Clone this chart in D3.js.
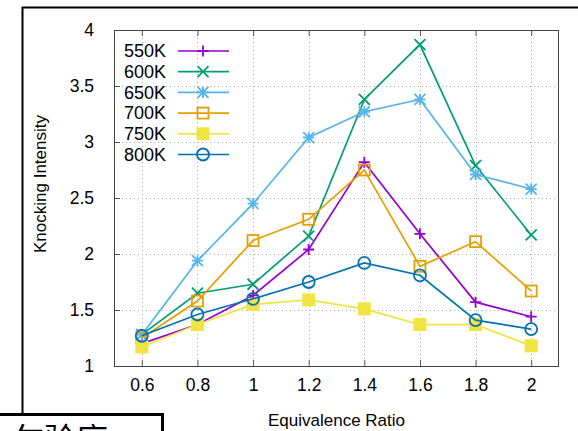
<!DOCTYPE html>
<html>
<head>
<meta charset="utf-8">
<script src="https://cdn.jsdelivr.net/npm/d3@7"></script>
<style>
  body { margin: 0; background: #fff; }
  svg { display: block; font-family: "Liberation Sans", Arial, sans-serif; }
</style>
</head>
<body>
<svg id="chart" width="578" height="431"></svg>
<script>
const ratios = [0.6, 0.8, 1.0, 1.2, 1.4, 1.6, 1.8, 2.0];
const xTicks = [0.6, 0.8, 1, 1.2, 1.4, 1.6, 1.8, 2];
const yTicks = [1, 1.5, 2, 2.5, 3, 3.5, 4];
const seriesNames = ["550K", "600K", "650K", "700K", "750K", "800K"];
const k550 = [1.20, 1.37, 1.63, 2.04, 2.82, 2.18, 1.57, 1.44];
const k600 = [1.28, 1.65, 1.73, 2.16, 3.38, 3.87, 2.79, 2.17];
const k650 = [1.28, 1.94, 2.45, 3.04, 3.27, 3.38, 2.71, 2.58];
const k700 = [1.25, 1.58, 2.12, 2.31, 2.75, 1.89, 2.11, 1.67];
const k750 = [1.17, 1.37, 1.55, 1.59, 1.51, 1.37, 1.37, 1.18];
const k800 = [1.27, 1.46, 1.60, 1.75, 1.92, 1.81, 1.41, 1.33];
const seriesValues = [k550, k600, k650, k700, k750, k800];
const colors = ["#9400d3", "#009e73", "#56b4e9", "#e69f00", "#f0e442", "#0072b2"];
const markers = ["plus", "cross", "star", "square", "filledSquare", "circle"];

const svg = d3.select("#chart");
const plotLeft = 114, plotRight = 559, plotTop = 30, plotBottom = 366;

const x = d3.scaleLinear().domain([0.5, 2.1]).range([plotLeft, plotRight]);
const y = d3.scaleLinear().domain([1, 4]).range([plotBottom, plotTop]);

// outer frame bits from the page
svg.append("path").attr("d", "M22.5,431 V7.5 H578")
  .attr("fill", "none").attr("stroke", "#000").attr("stroke-width", 2);
svg.append("rect").attr("x", 0).attr("y", 413).attr("width", 578).attr("height", 18).attr("fill", "#fff");
svg.append("path").attr("d", "M0,414.5 H162.5 V431")
  .attr("fill", "none").attr("stroke", "#000").attr("stroke-width", 3);
svg.append("clipPath").attr("id", "boxclip")
  .append("rect").attr("x", 0).attr("y", 416).attr("width", 161).attr("height", 15);
svg.append("g").attr("clip-path", "url(#boxclip)")
  .append("text").attr("x", 12).attr("y", 451)
  .style("font-family", "'Noto Sans CJK SC'").style("font-size", "32px")
  .text("乍验底");

// grid
const grid = svg.append("g").attr("stroke", "#b0b0b0").attr("stroke-width", 1).attr("stroke-dasharray", "1,3");
xTicks.forEach(t => grid.append("line")
  .attr("x1", Math.round(x(t)) + 0.5).attr("x2", Math.round(x(t)) + 0.5)
  .attr("y1", plotTop).attr("y2", plotBottom));
yTicks.slice(1, -1).forEach(t => grid.append("line")
  .attr("x1", plotLeft).attr("x2", plotRight)
  .attr("y1", Math.round(y(t)) + 0.5).attr("y2", Math.round(y(t)) + 0.5));

// axes
const xAxis = svg.append("g").attr("transform", `translate(0,${plotBottom})`)
  .call(d3.axisBottom(x).tickValues(xTicks).tickSize(-6).tickPadding(18).tickFormat(d3.format("")));
const xTop = svg.append("g").attr("transform", `translate(0,${plotTop})`)
  .call(d3.axisTop(x).tickValues(xTicks).tickSize(-6).tickFormat(""));
const yAxis = svg.append("g").attr("transform", `translate(${plotLeft},0)`)
  .call(d3.axisLeft(y).tickValues(yTicks).tickSize(-6).tickPadding(18).tickFormat(d3.format("")));
[xAxis, xTop, yAxis].forEach(a => {
  a.select(".domain").remove();
  a.selectAll(".tick line").attr("stroke", "#555");
  a.selectAll("text").attr("fill", "#000").style("font-size", "17.5px").style("font-family", "'Liberation Sans', Arial, sans-serif");
});
xAxis.selectAll("text").attr("dy", "0.4em");
yAxis.selectAll("text").attr("dx", "-2");

svg.append("rect").attr("x", plotLeft + 0.5).attr("y", plotTop + 0.5)
  .attr("width", plotRight - plotLeft - 1).attr("height", plotBottom - plotTop)
  .attr("fill", "none").attr("stroke", "#444").attr("stroke-width", 1);

// axis titles
svg.append("text").attr("x", (plotLeft + plotRight) / 2).attr("y", 426)
  .attr("text-anchor", "middle").style("font-size", "17px").text("Equivalence Ratio");
svg.append("text").attr("transform", "translate(46,184) rotate(-90)")
  .attr("text-anchor", "middle").style("font-size", "17px").text("Knocking Intensity");

function drawMarker(g, type, cx, cy, color) {
  const s = 5.5;
  if (type === "plus") {
    g.append("path").attr("d", `M${cx - s},${cy}H${cx + s}M${cx},${cy - s}V${cy + s}`)
      .attr("stroke", color).attr("stroke-width", 1.8);
  } else if (type === "cross") {
    g.append("path").attr("d", `M${cx - s},${cy - s}L${cx + s},${cy + s}M${cx - s},${cy + s}L${cx + s},${cy - s}`)
      .attr("stroke", color).attr("stroke-width", 1.8);
  } else if (type === "star") {
    g.append("path").attr("d", `M${cx - s},${cy}H${cx + s}M${cx},${cy - s}V${cy + s}M${cx - s},${cy - s}L${cx + s},${cy + s}M${cx - s},${cy + s}L${cx + s},${cy - s}`)
      .attr("stroke", color).attr("stroke-width", 1.8);
  } else if (type === "square") {
    g.append("rect").attr("x", cx - s).attr("y", cy - s).attr("width", 2 * s).attr("height", 2 * s)
      .attr("fill", "none").attr("stroke", color).attr("stroke-width", 1.8);
  } else if (type === "filledSquare") {
    g.append("rect").attr("x", cx - 6.5).attr("y", cy - 6.5).attr("width", 13).attr("height", 13)
      .attr("fill", color);
  } else if (type === "circle") {
    g.append("circle").attr("cx", cx).attr("cy", cy).attr("r", 6)
      .attr("fill", "none").attr("stroke", color).attr("stroke-width", 1.8);
  }
}

const line = d3.line().x((d, i) => x(ratios[i])).y(d => y(d));

seriesValues.forEach((vals, k) => {
  const g = svg.append("g");
  g.append("path").datum(vals).attr("d", line)
    .attr("fill", "none").attr("stroke", colors[k]).attr("stroke-width", 1.7);
  vals.forEach((v, i) => drawMarker(g, markers[k], x(ratios[i]), y(v), colors[k]));
});

// legend
const legend = svg.append("g");
seriesNames.forEach((name, k) => {
  const ly = 51 + k * 20.7;
  legend.append("text").attr("x", 166).attr("y", ly).attr("dy", "0.35em")
    .attr("text-anchor", "end").style("font-size", "18px").text(name);
  legend.append("line").attr("x1", 178).attr("x2", 229).attr("y1", ly).attr("y2", ly)
    .attr("stroke", colors[k]).attr("stroke-width", 1.7);
  drawMarker(legend, markers[k], 203, ly, colors[k]);
});
</script>
</body>
</html>
